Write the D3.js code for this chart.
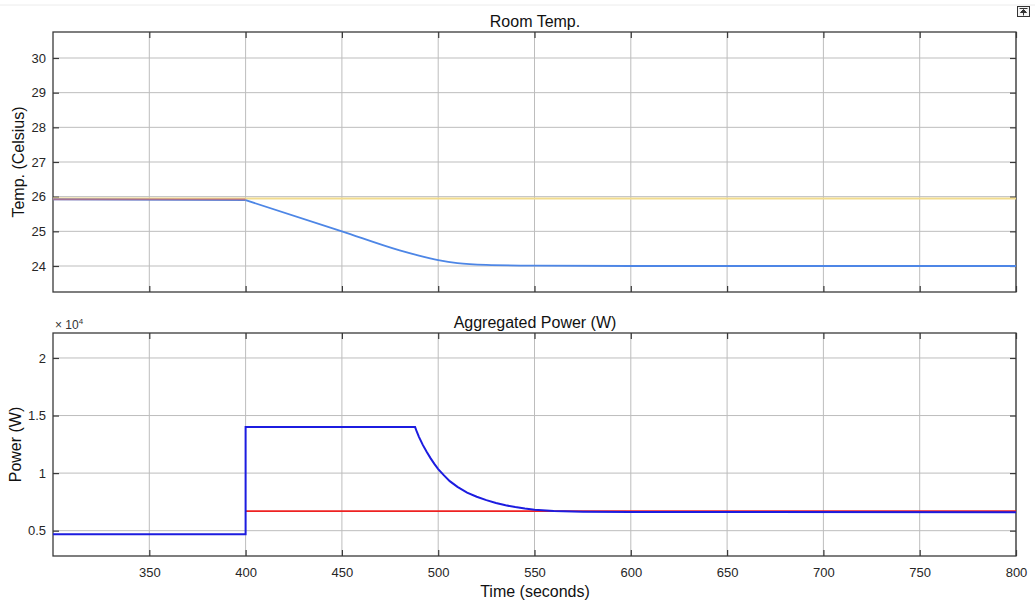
<!DOCTYPE html>
<html><head><meta charset="utf-8">
<script src="https://cdn.jsdelivr.net/npm/d3@7"></script>
<style>
body{margin:0;background:#fff;}
svg{display:block;font-family:"Liberation Sans",Arial,Helvetica,sans-serif;}
</style></head>
<body><svg id="c" width="1035" height="608"></svg>
<script>
// ---- data ----
const xTicks = [350,400,450,500,550,600,650,700,750,800];
const tempTicks = [24,25,26,27,28,29,30];
const powerTicks = [5000,10000,15000,20000];
const powerTickLabels = ["0.5","1","1.5","2"];

// Room temperature (Celsius)
const tempSetT = [300,800];
const tempSetV = [25.95,25.95];           // yellow
const tempRefT = [300,400];
const tempRefV = [25.92,25.92];           // red (before event)
const tempPreT = [300,400];
const tempPreV = [25.92,25.9];            // blue before event
const tempRoomT = [400,450,480,490,500,510,525,550,600,800];
const tempRoomV = [25.9,25.0,24.45,24.3,24.17,24.08,24.03,24.01,24.0,24.0];

// Aggregated power (W)
const powRefT = [400,800];
const powRefV = [6700,6700];              // red
const powAggT = [300,400,400,488,489,490,492,494,496,498,500,503,506,510,515,520,525,530,535,540,545,550,560,575,600,800];
const powAggV = [4700,4700,14000,14000,13550,13150,12450,11850,11300,10800,10350,9800,9300,8800,8300,7950,7650,7400,7200,7050,6920,6820,6700,6650,6620,6600];

// ---- layout ----
const svg = d3.select("#c");
const L = 53, R = 1016;
const x = d3.scaleLinear().domain([300,800]).range([L,R]);
const top1 = 32, bot1 = 292, top2 = 333, bot2 = 556;
const yT = d3.scaleLinear().domain([23.25,30.75]).range([bot1,top1]);
const yP = d3.scaleLinear().domain([2800,22170]).range([bot2,top2]);

const gridCol = "#bdbdbd", axisCol = "#3a3a3a", txtCol = "#262626";

// top faint band
svg.append("line").attr("x1",0).attr("x2",1035).attr("y1",5).attr("y2",5).attr("stroke","#ececec").attr("stroke-width",1);
// icon
const ic = svg.append("g").attr("transform","translate(1017,6)");
ic.append("rect").attr("x",0.5).attr("y",0.5).attr("width",12).attr("height",10).attr("fill","#f4f4f4").attr("stroke","#333").attr("stroke-width",1);
ic.append("path").attr("d","M2.5,2.5 H10.5 M6.5,3.5 L3.5,6.5 H9.5 Z M6.5,6.5 V9.5").attr("stroke","#333").attr("fill","#333").attr("stroke-width",1);

function panel(y, t, b, yTicks, yLabels, title, titleY, ylabel, ylabelX, showX){
  const g = svg.append("g");
  g.selectAll(".gx").data(xTicks).join("line")
    .attr("x1",d=>x(d)).attr("x2",d=>x(d)).attr("y1",t).attr("y2",b)
    .attr("stroke",gridCol).attr("stroke-width",1);
  g.selectAll(".gy").data(yTicks).join("line")
    .attr("x1",L).attr("x2",R).attr("y1",d=>y(d)).attr("y2",d=>y(d))
    .attr("stroke",gridCol).attr("stroke-width",1);
  const ax = g.append("g").attr("transform",`translate(0,${b})`)
    .call(d3.axisBottom(x).tickValues(xTicks).tickSize(-6).tickPadding(12).tickFormat(showX? d3.format("d") : ()=>""));
  const axT = g.append("g").attr("transform",`translate(0,${t})`)
    .call(d3.axisTop(x).tickValues(xTicks).tickSize(-6).tickFormat(()=>""));
  const ayL = g.append("g").attr("transform",`translate(${L},0)`)
    .call(d3.axisLeft(y).tickValues(yTicks).tickSize(-6).tickPadding(7).tickFormat((d,i)=>yLabels[i]));
  const ayR = g.append("g").attr("transform",`translate(${R},0)`)
    .call(d3.axisRight(y).tickValues(yTicks).tickSize(-6).tickFormat(()=>""));
  [ax,axT,ayL,ayR].forEach(a=>{
    a.select(".domain").remove();
    a.selectAll("line").attr("stroke",axisCol).attr("stroke-width",1.2);
    a.selectAll("text").attr("fill",txtCol).style("font-size","13px").style("font-family","Liberation Sans, Arial, sans-serif");
  });
  g.append("rect").attr("x",L).attr("y",t).attr("width",R-L).attr("height",b-t)
    .attr("fill","none").attr("stroke",axisCol).attr("stroke-width",1.3);
  svg.append("text").attr("x",535).attr("y",titleY).attr("text-anchor","middle")
    .attr("fill","#111").style("font-size","16px").text(title);
  svg.append("text").attr("transform",`translate(${ylabelX},${(t+b)/2}) rotate(-90)`).attr("text-anchor","middle")
    .attr("fill","#111").style("font-size","16px").text(ylabel);
  return g;
}

const g1 = panel(yT, top1, bot1, tempTicks, tempTicks.map(String), "Room Temp.", 27, "Temp. (Celsius)", 24, false);
const g2 = panel(yP, top2, bot2, powerTicks, powerTickLabels, "Aggregated Power (W)", 328, "Power (W)", 21, true);

const defs = svg.append("defs");
defs.append("clipPath").attr("id","cp1").append("rect").attr("x",L).attr("y",top1).attr("width",R-L).attr("height",bot1-top1);
defs.append("clipPath").attr("id","cp2").append("rect").attr("x",L).attr("y",top2).attr("width",R-L).attr("height",bot2-top2);

function drawLine(g, ts, vs, y, color, w, clip, curve, op){
  const pts = ts.map((t,i)=>[t,vs[i]]);
  g.append("path").datum(pts).attr("clip-path",`url(#${clip})`)
    .attr("d", d3.line().x(d=>x(d[0])).y(d=>y(d[1])).curve(curve||d3.curveLinear))
    .attr("fill","none").attr("stroke",color).attr("stroke-width",w).attr("opacity",op||1);
}

drawLine(g1, tempSetT, tempSetV, yT, "#f1dc8e", 2, "cp1");
drawLine(g1, tempPreT, tempPreV, yT, "#4d86e6", 1.8, "cp1");
drawLine(g1, tempRoomT, tempRoomV, yT, "#4d86e6", 1.8, "cp1", d3.curveMonotoneX);
drawLine(g1, tempRefT, tempRefV, yT, "#c06a7a", 1.8, "cp1", d3.curveLinear, 0.75);

drawLine(g2, powRefT, powRefV, yP, "#ee2222", 1.6, "cp2");
drawLine(g2, powAggT, powAggV, yP, "#1c1ce0", 2, "cp2");

const mt = svg.append("text").attr("x",L+2).attr("y",top2-4).attr("fill","#333").style("font-size","12px");
mt.append("tspan").text("\u00d7 10");
mt.append("tspan").attr("dy",-5).style("font-size","8px").text("4");

svg.append("text").attr("x",535).attr("y",597).attr("text-anchor","middle")
  .attr("fill","#111").style("font-size","16px").text("Time (seconds)");
</script></body></html>
